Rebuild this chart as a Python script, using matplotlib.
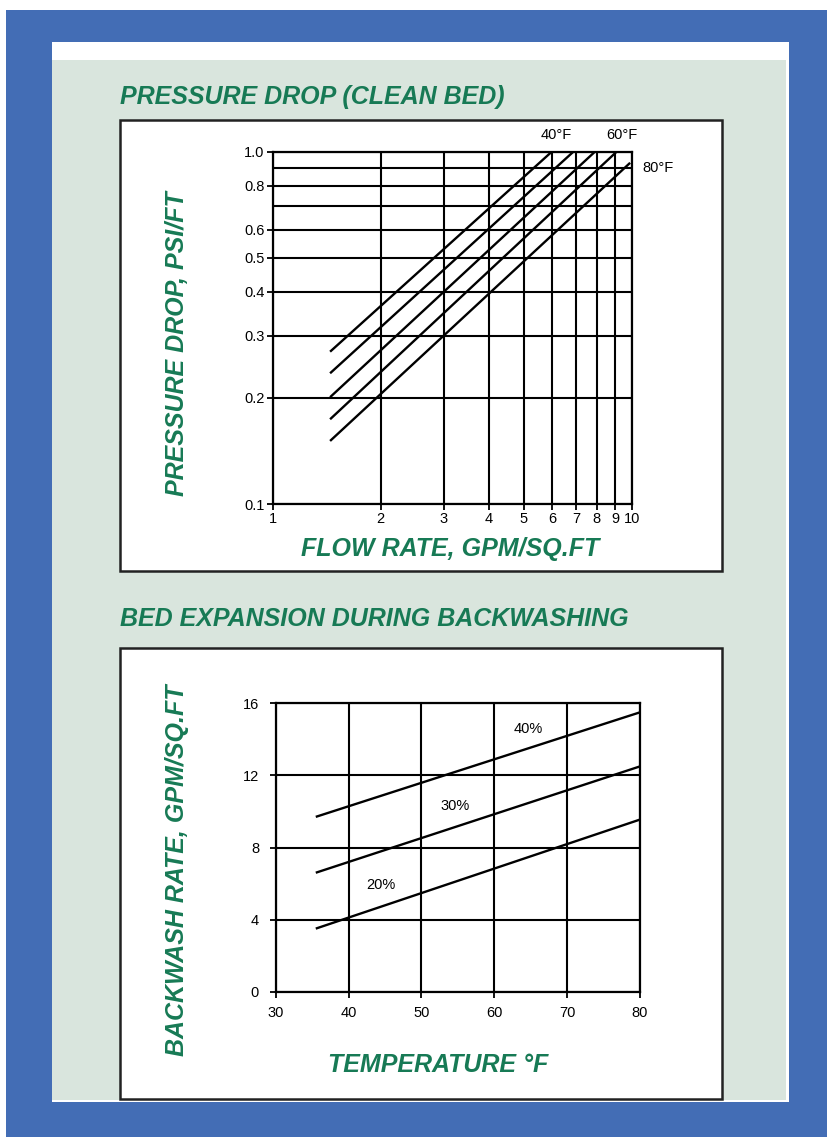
import matplotlib
matplotlib.use("Agg")
import matplotlib.pyplot as plt
from matplotlib.patches import Rectangle
import numpy as np

# ---------------- data ----------------
# Pressure drop (clean bed): each line given by two end points (flow, psi/ft)
pd_flow = [[1.445, 5.99], [1.445, 6.88], [1.445, 7.90], [1.445, 9.08], [1.445, 9.90]]
pd_psi = [[0.2706, 1.0], [0.235, 1.0], [0.201, 1.0], [0.174, 1.0], [0.151, 0.93]]
pd_xticks = [1, 2, 3, 4, 5, 6, 7, 8, 9, 10]
pd_yticks = [0.1, 0.2, 0.3, 0.4, 0.5, 0.6, 0.8, 1.0]
pd_yticklabels = ["0.1", "0.2", "0.3", "0.4", "0.5", "0.6", "0.8", "1.0"]
pd_yminor = [0.7, 0.9]
temp_labels = ["40°F", "60°F", "80°F"]

# Bed expansion during backwashing
bw_temp = [35.5, 80]
bw_rate_40 = [9.7, 15.5]
bw_rate_30 = [6.6, 12.5]
bw_rate_20 = [3.5, 9.55]
bw_names = ["40%", "30%", "20%"]
bw_xticks = [30, 40, 50, 60, 70, 80]
bw_yticks = [0, 4, 8, 12, 16]

# ---------------- styling ----------------
W, H = 827, 1137
BLUE = "#436DB5"
PALE = "#D9E5DD"
GREEN = "#177A55"
TITLE_FONT = ["Liberation Sans", "DejaVu Sans"]
TICK_FONT = ["Liberation Sans Narrow", "Liberation Sans", "DejaVu Sans"]
TS = 10.5

fig = plt.figure(figsize=(W / 100, H / 100), dpi=100)
fig.patch.set_facecolor("white")


def prect(x0, y0, x1, y1, **kw):
    r = Rectangle((x0 / W, 1 - y1 / H), (x1 - x0) / W, (y1 - y0) / H,
                  transform=fig.transFigure, **kw)
    fig.add_artist(r)
    return r


def ptext(x, y, s, **kw):
    return fig.text(x / W, 1 - y / H, s, **kw)


def pax(x0, y0, x1, y1):
    return fig.add_axes([x0 / W, 1 - y1 / H, (x1 - x0) / W, (y1 - y0) / H])


# background layers
prect(6, 10, W, H, facecolor=BLUE, edgecolor="none", zorder=-5)
prect(52, 42, 789, 1102, facecolor="white", edgecolor="none", zorder=-4)
prect(52, 60, 786, 1100, facecolor=PALE, edgecolor="none", zorder=-3)
prect(120, 120, 722, 571, facecolor="white", edgecolor="#222222", lw=1.8, zorder=-2)
prect(120, 648, 722, 1099, facecolor="white", edgecolor="#222222", lw=1.8, zorder=-2)

title_kw = dict(color=GREEN, fontweight="bold", fontstyle="italic",
                family=TITLE_FONT, fontsize=18)
ptext(120, 104, "PRESSURE DROP (CLEAN BED)", ha="left", va="baseline", **title_kw)
ptext(120, 626, "BED EXPANSION DURING BACKWASHING", ha="left", va="baseline", **title_kw)
ptext(450, 556, "FLOW RATE, GPM/SQ.FT", ha="center", va="baseline", **title_kw)
ptext(438, 1072, "TEMPERATURE °F", ha="center", va="baseline", **title_kw)
ptext(177, 344, "PRESSURE DROP, PSI/FT", ha="center", va="center", rotation=90, **title_kw)
ptext(177, 870, "BACKWASH RATE, GPM/SQ.FT", ha="center", va="center", rotation=90, **title_kw)

# ---------------- top chart ----------------
ax1 = pax(272.7, 151.7, 631.7, 504)
ax1.set_xscale("log")
ax1.set_yscale("log")
ax1.set_xlim(1, 10)
ax1.set_ylim(0.1, 1.0)
ax1.set_xticks(pd_xticks)
ax1.set_xticklabels([str(v) for v in pd_xticks])
ax1.set_yticks(pd_yticks)
ax1.set_yticklabels(pd_yticklabels)
ax1.xaxis.set_minor_locator(matplotlib.ticker.NullLocator())
ax1.set_yticks(pd_yminor, minor=True)
ax1.yaxis.set_minor_formatter(matplotlib.ticker.NullFormatter())
ax1.grid(True, which="both", color="black", lw=1.5)
ax1.tick_params(which="major", length=4, width=1.3, pad=2, labelsize=TS)
ax1.tick_params(which="minor", length=0)
for lab in ax1.get_xticklabels() + ax1.get_yticklabels():
    lab.set_family(TICK_FONT)
for s in ax1.spines.values():
    s.set_linewidth(1.6)
for xs, ys in zip(pd_flow, pd_psi):
    ax1.plot(xs, ys, color="black", lw=1.7, solid_capstyle="butt", zorder=3)
ax1.set_axisbelow(True)
lab_kw = dict(fontsize=TS, family=TICK_FONT, clip_on=False)
ax1.text(6.15, 1.115, temp_labels[0], ha="center", va="center", **lab_kw)
ax1.text(9.4, 1.115, temp_labels[1], ha="center", va="center", **lab_kw)
ax1.text(10.7, 0.899, temp_labels[2], ha="left", va="center", **lab_kw)

# ---------------- bottom chart ----------------
ax2 = pax(275.7, 703.3, 640, 991.7)
ax2.set_xlim(30, 80)
ax2.set_ylim(0, 16)
ax2.set_xticks(bw_xticks)
ax2.set_yticks(bw_yticks)
ax2.grid(True, color="black", lw=1.5)
ax2.tick_params(length=4, width=1.3, pad=8, labelsize=TS)
ax2.tick_params(axis="x", pad=6)
for lab in ax2.get_xticklabels() + ax2.get_yticklabels():
    lab.set_family(TICK_FONT)
for s in ax2.spines.values():
    s.set_linewidth(1.6)
for ys in (bw_rate_40, bw_rate_30, bw_rate_20):
    ax2.plot(bw_temp, ys, color="black", lw=1.7, solid_capstyle="butt", zorder=3)
ax2.text(64.7, 14.6, bw_names[0], ha="center", va="center", fontsize=TS, family=TICK_FONT)
ax2.text(54.6, 10.3, bw_names[1], ha="center", va="center", fontsize=TS, family=TICK_FONT)
ax2.text(44.4, 5.9, bw_names[2], ha="center", va="center", fontsize=TS, family=TICK_FONT)

fig.savefig("out.png", dpi=100)
